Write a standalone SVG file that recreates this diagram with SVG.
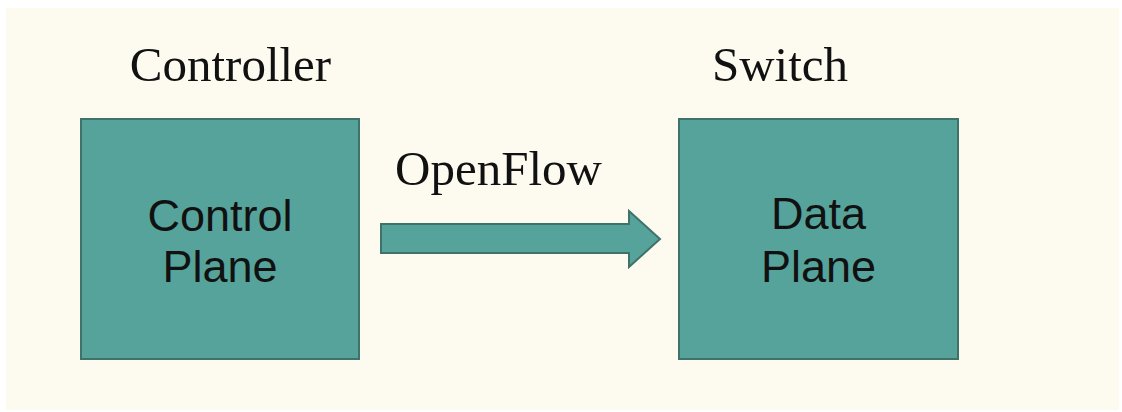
<svg xmlns="http://www.w3.org/2000/svg" width="1122" height="412" viewBox="0 0 1122 412">
<style>
.box{fill:#55a39a;stroke:#3f7369;stroke-width:2}
.serif{font-family:"Liberation Serif","DejaVu Serif",serif;font-size:49px;fill:#111;text-anchor:middle}
.sans{font-family:"Liberation Sans",Arial,sans-serif;font-size:45px;fill:#111;text-anchor:middle}
</style>
<rect x="0" y="0" width="1122" height="412" fill="#ffffff"/>
<rect x="6" y="8" width="1113" height="402" fill="#fdfaf0"/>
<text class="serif" x="230.5" y="81">Controller</text>
<text class="serif" x="780" y="81">Switch</text>
<text class="serif" x="498.5" y="185">OpenFlow</text>
<g id="control-plane">
<rect class="box" x="81" y="119" width="278" height="240"/>
<text class="sans" x="220" y="231">Control</text>
<text class="sans" x="220" y="282">Plane</text>
</g>
<g id="data-plane">
<rect class="box" x="679" y="119" width="279" height="240"/>
<text class="sans" x="818.5" y="229">Data</text>
<text class="sans" x="818.5" y="282">Plane</text>
</g>
<g id="connectors">
<path class="box" d="M381 224 H629 V211 L660 239 L629 267 V253 H381 Z"/>
</g>
</svg>
